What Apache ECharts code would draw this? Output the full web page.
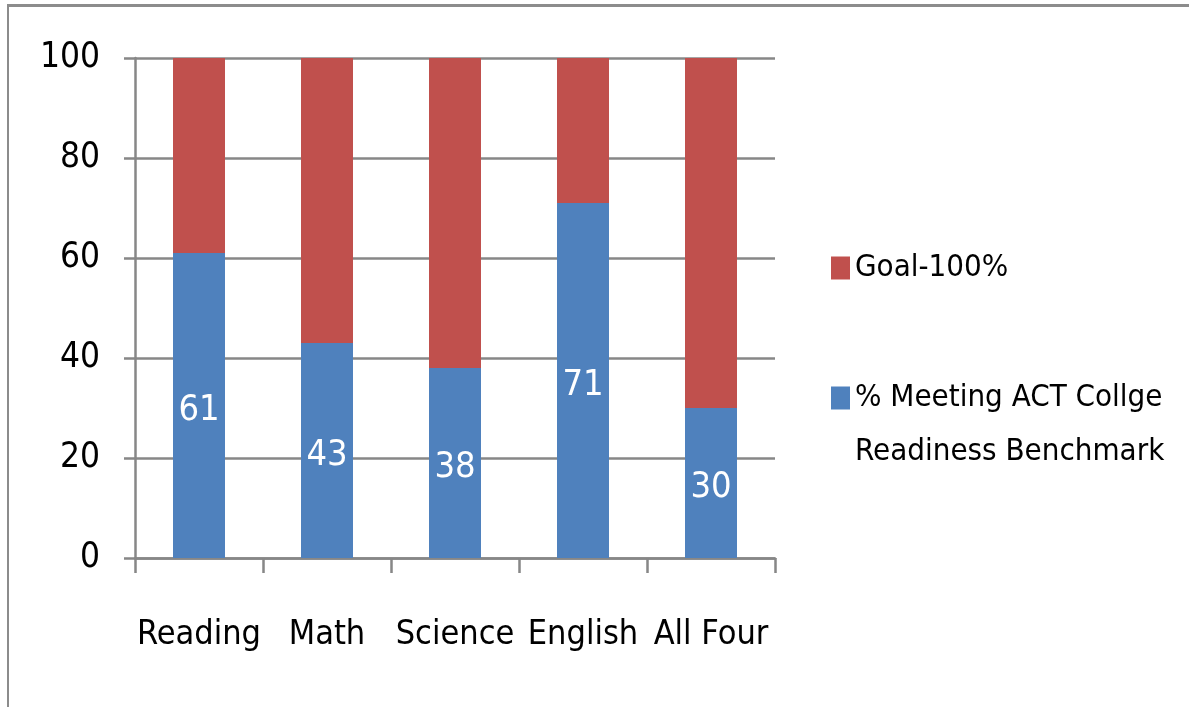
<!DOCTYPE html>
<html>
<head>
<meta charset="utf-8">
<script src="https://cdn.jsdelivr.net/npm/echarts@6/dist/echarts.min.js"></script>
<style>
  html, body { margin: 0; padding: 0; background: #fff; }
  #wrap { position: relative; width: 1189px; height: 707px; overflow: hidden; }
  #chart { position: absolute; left: 0; top: 0; width: 1189px; height: 707px; }
  #frame { position: absolute; left: 7px; top: 4px; width: 1200px; height: 720px;
           border-top: 3px solid #8c8c8c; border-left: 2px solid #8c8c8c; pointer-events: none; }
</style>
</head>
<body>
<div id="wrap">
  <div id="chart"></div>
  <div id="frame"></div>
</div>
<script>
const categories = ['Reading', 'Math', 'Science', 'English', 'All Four'];
const meetingValues = [61, 43, 38, 71, 30];
const goalValues = [39, 57, 62, 29, 70];
const yTicks = [0, 20, 40, 60, 80, 100];
const goalName = 'Goal-100%';
const meetingName = '% Meeting ACT Collge Readiness Benchmark';

const FONT = "'Liberation Sans Narrow', 'DejaVu Sans Condensed', 'Arial Narrow', sans-serif";
const GRAY = '#878787';

const chart = echarts.init(document.getElementById('chart'));
chart.setOption({
  animation: false,
  textStyle: { fontFamily: FONT },
  grid: { left: 135, right: 414, top: 58, bottom: 149, containLabel: false },
  legend: [
    {
      data: [goalName],
      orient: 'vertical',
      left: 831, top: 249, padding: 0,
      itemWidth: 19, itemHeight: 23,
      icon: 'rect',
      textStyle: { fontFamily: FONT, fontSize: 31, color: '#000', lineHeight: 38 },
      selectedMode: false
    },
    {
      data: [meetingName],
      orient: 'vertical',
      left: 831, top: 317, padding: 0,
      itemWidth: 19, itemHeight: 23,
      icon: 'rect',
      formatter: function () { return '\n% Meeting ACT Collge\nReadiness Benchmark'; },
      textStyle: { fontFamily: FONT, fontSize: 31, color: '#000', lineHeight: 54 },
      selectedMode: false
    }
  ],
  xAxis: {
    type: 'category',
    data: categories,
    axisLine: { show: true, lineStyle: { color: GRAY, width: 2.5 } },
    axisTick: { show: true, length: 15, lineStyle: { color: GRAY, width: 2.5 } },
    axisLabel: { color: '#000', fontSize: 34, fontFamily: FONT, margin: 60, interval: 0, hideOverlap: false }
  },
  yAxis: {
    type: 'value',
    min: 0, max: 100, interval: 20,
    axisLine: { show: true, lineStyle: { color: GRAY, width: 2.5 } },
    axisTick: { show: true, length: 11, lineStyle: { color: GRAY, width: 2.5 } },
    splitLine: { show: true, lineStyle: { color: GRAY, width: 2.5 } },
    axisLabel: {
      color: '#000', fontSize: 35, fontFamily: FONT, margin: 35,
      formatter: function (v) { return yTicks.indexOf(v) >= 0 ? String(v) : ''; }
    }
  },
  series: [
    {
      name: meetingName,
      type: 'bar',
      stack: 'total',
      data: meetingValues,
      barWidth: 52,
      itemStyle: { color: '#4F81BD' },
      label: { show: true, position: 'inside', color: '#fff', fontSize: 36, fontFamily: FONT, offset: [0, 5] }
    },
    {
      name: goalName,
      type: 'bar',
      stack: 'total',
      data: goalValues,
      barWidth: 52,
      itemStyle: { color: '#C0504D' }
    }
  ]
});
</script>
</body>
</html>
